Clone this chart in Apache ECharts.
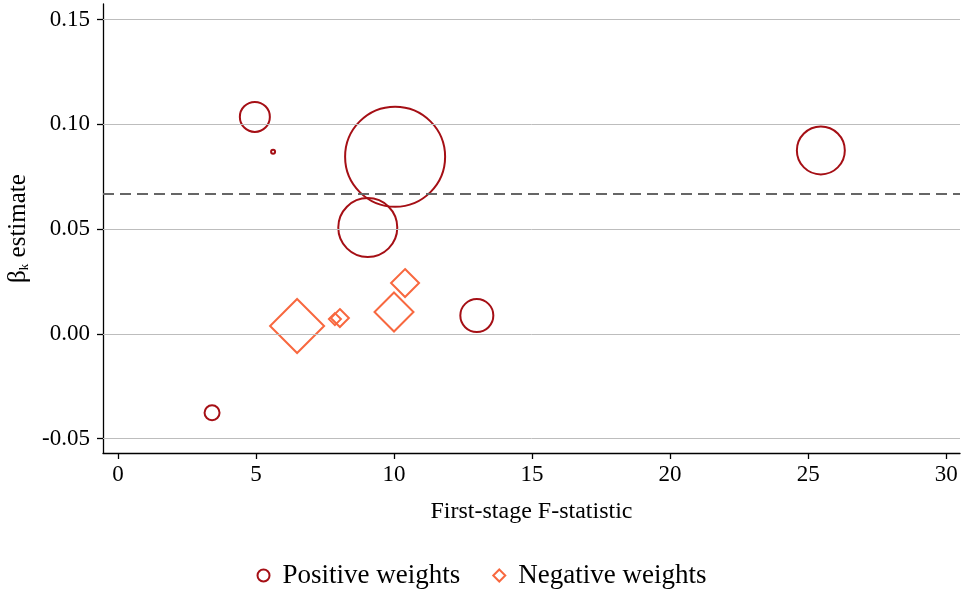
<!DOCTYPE html>
<html>
<head>
<meta charset="utf-8">
<script src="https://cdn.jsdelivr.net/npm/echarts@6/dist/echarts.min.js"></script>
<style>
html,body{margin:0;padding:0;background:#fff;}
#chart{width:963px;height:594px;}
</style>
</head>
<body>
<div id="chart"></div>
<script>
// ---- data ----
const posF      = [4.96, 5.62, 10.04, 9.05, 13.0, 25.46, 3.41];
const posBeta   = [0.1035, 0.0869, 0.0845, 0.0507, 0.0087, 0.0875, -0.0377];
const posWeight = [0.090, 0.0016, 1.0, 0.348, 0.109, 0.230, 0.0225];

const negF      = [6.49, 7.86, 8.04, 10.0, 10.4];
const negBeta   = [0.0037, 0.0070, 0.0075, 0.0104, 0.0242];
const negWeight = [0.292, 0.0144, 0.0324, 0.152, 0.0784];

const meanBeta  = 0.0667;
const xTicks    = [0, 5, 10, 15, 20, 25, 30];
const yTicks    = [-0.05, 0.00, 0.05, 0.10, 0.15];

// ---- styles ----
const FONT = 'Liberation Serif';
const posColor = '#A50F15';
const negColor = '#F8683F';
const sizeOf = w => 100 * Math.sqrt(w);

const chart = echarts.init(document.getElementById('chart'), null, {renderer: 'canvas'});
chart.setOption({
  animation: false,
  backgroundColor: '#fff',
  textStyle: {fontFamily: FONT, color: '#000'},
  grid: {left: 103, right: 3, top: 4, bottom: 141, containLabel: false, outerBoundsMode: 'none'},
  xAxis: {
    type: 'value', min: -0.54, max: 30.5,
    name: 'First-stage F-statistic', nameLocation: 'middle', nameGap: 47,
    nameTextStyle: {fontFamily: FONT, fontSize: 24, color: '#000'},
    axisLine: {show: true, onZero: false, lineStyle: {color: '#000', width: 1.3}},
    axisTick: {show: true, length: 6, customValues: xTicks, lineStyle: {color: '#000', width: 1.3}},
    axisLabel: {customValues: xTicks, fontFamily: FONT, fontSize: 23, color: '#000', margin: 10,
                formatter: v => String(v)},
    splitLine: {show: false}
  },
  yAxis: {
    type: 'value', min: -0.0569, max: 0.1574,
    name: '{b|β}{s|k}{b| estimate}', nameLocation: 'middle', nameGap: 62, nameRotate: 90,
    nameTextStyle: {fontFamily: FONT, fontSize: 25, color: '#000',
      rich: {b: {fontFamily: FONT, fontSize: 25, color: '#000'},
             s: {fontFamily: FONT, fontSize: 13, color: '#000', verticalAlign: 'bottom', padding: [13,0,0,0]}}},
    axisLine: {show: true, onZero: false, lineStyle: {color: '#000', width: 1.3}},
    axisTick: {show: true, length: 6, customValues: yTicks, lineStyle: {color: '#000', width: 1.3}},
    axisLabel: {customValues: yTicks, fontFamily: FONT, fontSize: 23, color: '#000', margin: 13,
                formatter: v => v.toFixed(2)},
    splitLine: {show: false}
  },
  legend: {
    bottom: 0, left: 'center', itemGap: 32, itemWidth: 12, itemHeight: 12,
    textStyle: {fontFamily: FONT, fontSize: 27, color: '#000', padding: [0, 0, 0, 8]},
    data: [
      {name: 'Positive weights', icon: 'circle',
       itemStyle: {color: 'transparent', borderColor: posColor, borderWidth: 2, opacity: 1}},
      {name: 'Negative weights', icon: 'diamond',
       itemStyle: {color: 'transparent', borderColor: negColor, borderWidth: 2, opacity: 1}}
    ]
  },
  series: [
    {
      name: 'grid', type: 'scatter', data: [], silent: true,
      markLine: {
        silent: true, symbol: 'none', animation: false, precision: 6,
        label: {show: false},
        data: yTicks.map(v => ({yAxis: v, lineStyle: {color: '#bdbdbd', width: 1, type: 'solid'}}))
          .concat([{yAxis: meanBeta, lineStyle: {color: '#666', width: 2, type: [11, 6]}}])
      }
    },
    {
      name: 'Positive weights', type: 'scatter', symbol: 'circle', z: 3,
      data: posF.map((f, i) => ({value: [f, posBeta[i]], symbolSize: sizeOf(posWeight[i])})),
      itemStyle: {color: 'transparent', borderColor: posColor, borderWidth: 2, opacity: 1}
    },
    {
      name: 'Negative weights', type: 'scatter', symbol: 'diamond', z: 3,
      data: negF.map((f, i) => ({value: [f, negBeta[i]], symbolSize: sizeOf(negWeight[i])})),
      itemStyle: {color: 'transparent', borderColor: negColor, borderWidth: 2, opacity: 1}
    }
  ]
});
</script>
</body>
</html>
